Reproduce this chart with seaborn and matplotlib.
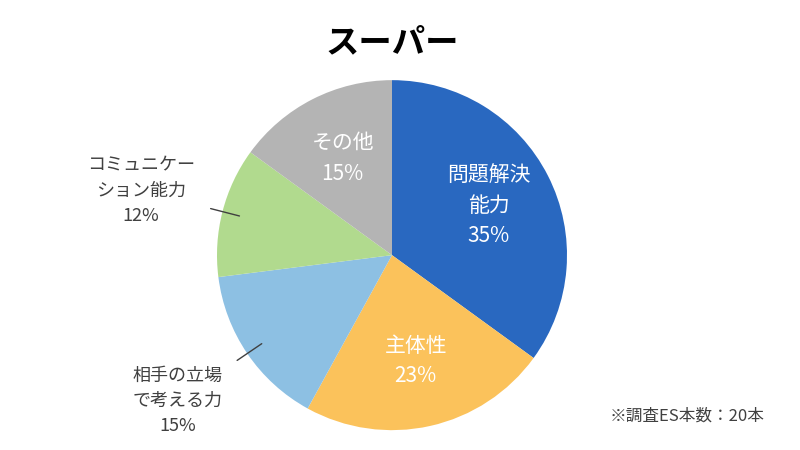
import numpy as np
import matplotlib.pyplot as plt
import seaborn as sns

sns.set_theme(style="white", font="Noto Sans CJK JP")

labels = ["問題解決\n能力", "主体性", "相手の立場\nで考える力", "コミュニケー\nション能力", "その他"]
values = [35, 23, 15, 12, 15]
colors = ["#2968C0", "#FBC25B", "#8DC0E3", "#B1DA8E", "#B4B4B4"]
inside = [True, True, False, False, True]

fig = plt.figure(figsize=(8, 4.5), dpi=100)
ax = fig.add_axes([392/800 - 0.21875, 0.433 - 0.3889, 0.4375, 0.7778])
wedges, _ = ax.pie(values, colors=colors, startangle=90, counterclock=False,
                   wedgeprops=dict(linewidth=0))
ax.set_xlim(-1, 1)
ax.set_ylim(-1, 1)
ax.set_aspect("equal")

start = 90
for lab, v, ins in zip(labels, values, inside):
    mid = np.deg2rad(start - v * 3.6 / 2)
    start -= v * 3.6
    text = f"{lab}\n{v}%"
    if ins:
        r = 0.62
        ax.text(r * np.cos(mid), r * np.sin(mid), text, ha="center", va="center",
                color="white", fontsize=15, linespacing=1.5)
    else:
        ax.plot([0.9 * np.cos(mid), 1.07 * np.cos(mid)],
                [0.9 * np.sin(mid), 1.07 * np.sin(mid)], color="#404040", lw=1,
                clip_on=False)
        ax.text(1.48 * np.cos(mid), 1.48 * np.sin(mid), text, ha="center", va="center",
                color="#404040", fontsize=13, linespacing=1.5, clip_on=False)

fig.text(0.49, 0.905, "スーパー", ha="center", va="center", fontsize=24,
         fontweight="bold", color="black")
fig.text(0.955, 0.075, "※調査ES本数：20本", ha="right", va="center", fontsize=12,
         color="#404040")

fig.savefig("out.png", dpi=100)
